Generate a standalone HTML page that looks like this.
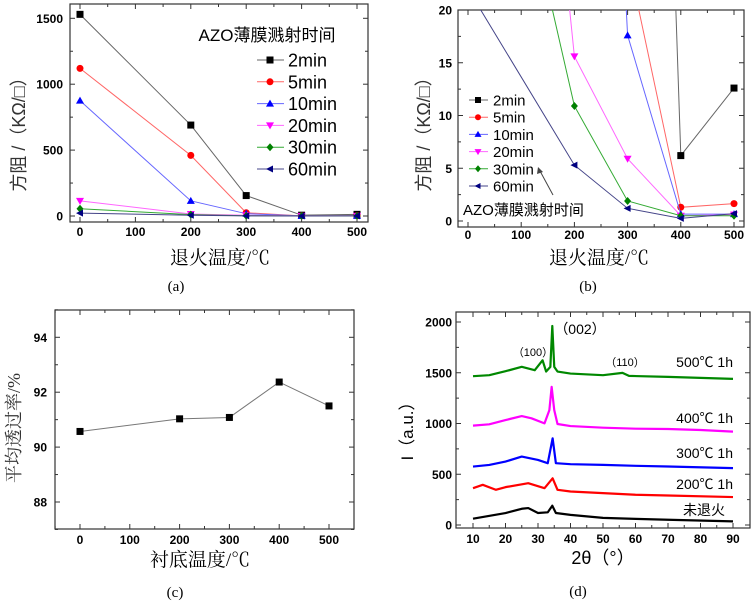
<!DOCTYPE html>
<html><head><meta charset="utf-8"><style>
html,body{margin:0;padding:0;background:#fff;}
svg{display:block;font-family:"Liberation Sans","Noto Sans CJK SC",sans-serif;}
.tk{font-weight:bold;font-size:12px;fill:#000;}
.cj{font-family:"Liberation Serif","Noto Serif CJK SC",serif;}
</style></head><body>
<svg id="fig" width="753" height="603" viewBox="0 0 753 603">
<defs>
<clipPath id="clipA"><rect x="70" y="4" width="298" height="218"/></clipPath>
<clipPath id="clipB"><rect x="458" y="10" width="286" height="217"/></clipPath>
<clipPath id="clipC"><rect x="55" y="310" width="299" height="219"/></clipPath>
<clipPath id="clipD"><rect x="456" y="312" width="294" height="216"/></clipPath>
</defs>
</svg>
<script>
const temps=[0,200,300,400,500];
const seriesNames=["2min","5min","10min","20min","30min","60min"];
const s2min=[1530,690,155,6.2,12.6];
const s5min=[1120,460,25,1.3,1.65];
const s10min=[875,115,17.6,0.65,0.65];
const s20min=[115,15.6,5.9,0.5,0.6];
const s30min=[55,10.9,1.9,0.5,0.5];
const s60min=[22,5.3,1.2,0.25,0.7];
const tickA_y=[0,500,1000,1500];
const tickB_y=[0,5,10,15,20];
const tickX=[0,100,200,300,400,500];
const transT=[0,200,300,400,500];
const transV=[90.57,91.03,91.08,92.37,91.5];
const tickC_y=[88,90,92,94];
const xrdX0=[10,20,25,27,30,33,34.4,35.5,40,50,60,70,90];
const xrdY0=[62,118,160,167,118,125,190,118,100,70,60,52,36];
const xrdX200=[10,13,17,20,27,32,34.5,36,40,50,60,70,90];
const xrdY200=[363,396,347,373,412,363,460,347,330,314,298,291,275];
const xrdX300=[10,15,20,25,30,33,34.5,35.5,40,50,60,70,90];
const xrdY300=[576,592,625,674,641,609,854,609,599,592,583,576,560];
const xrdX400=[10,15,20,25,28,32,33.5,34.2,35,36,40,50,60,70,80,90];
const xrdY400=[979,992,1034,1073,1051,1001,1132,1361,1132,995,975,959,949,946,936,920];
const xrdX500=[10,15,20,25,29,31.4,32.5,33.8,34.4,35,36,40,50,56,58,70,90];
const xrdY500=[1466,1476,1515,1558,1525,1623,1512,1558,1961,1558,1512,1492,1476,1499,1469,1459,1440];
const tickD_x=[10,20,30,40,50,60,70,80,90];
const tickD_y=[0,500,1000,1500,2000];

const NS="http://www.w3.org/2000/svg";
const fig=document.getElementById('fig');
function el(tag,attrs,parent){const e=document.createElementNS(NS,tag);for(const k in attrs)e.setAttribute(k,attrs[k]);(parent||fig).appendChild(e);return e;}
function txt(x,y,s,cls,anchor,size,parent,name){const t=el('text',{x:x,y:y,'text-anchor':anchor||'middle'},parent);if(cls)t.setAttribute('class',cls);if(size)t.setAttribute('font-size',size);t.textContent=s;


return t;}
function lin(x0,x1,p0,p1){return v=>p0+(v-x0)*(p1-p0)/(x1-x0);}
const colors=["#000","#f00","#00f","#f0f","#008000","#000080"];
const lineCols=["#666","#f66","#66f","#f6f","#3a3","#448"];
const shapes=["sq","ci","tu","td","di","tl"];
function marker(g,x,y,sh,c,r){r=r||3.5;let m;
if(sh==="sq")m=el('rect',{x:x-r,y:y-r,width:2*r,height:2*r,fill:c},g);
else if(sh==="ci")m=el('circle',{cx:x,cy:y,r:r,fill:c},g);
else if(sh==="tu")m=el('polygon',{points:`${x},${y-r-0.5} ${x-r-0.5},${y+r-0.5} ${x+r+0.5},${y+r-0.5}`,fill:c},g);
else if(sh==="td")m=el('polygon',{points:`${x},${y+r+0.5} ${x-r-0.5},${y-r+0.5} ${x+r+0.5},${y-r+0.5}`,fill:c},g);
else if(sh==="di")m=el('polygon',{points:`${x},${y-r-0.5} ${x+r},${y} ${x},${y+r+0.5} ${x-r},${y}`,fill:c},g);
else m=el('polygon',{points:`${x-r-0.5},${y} ${x+r-0.5},${y-r} ${x+r-0.5},${y+r}`,fill:c},g);


return m;}
function axesBox(L,T,R,B,xs,xt,ys,yt,xlabY,ylabX,name,xminor,yminor){
 const g=el('g',{});
 
 
 el('rect',{x:L,y:T,width:R-L,height:B-T,fill:'none',stroke:'#333','stroke-width':1.2},g);
 xt.forEach(v=>{const x=xs(v);el('line',{x1:x,y1:B,x2:x,y2:B-5,stroke:'#333'},g);el('line',{x1:x,y1:T,x2:x,y2:T+5,stroke:'#333'},g);txt(x,xlabY,String(v),'tk','middle',null,g,'x-tick-label');});
 (xminor||[]).forEach(v=>{const x=xs(v);el('line',{x1:x,y1:B,x2:x,y2:B-3,stroke:'#333'},g);el('line',{x1:x,y1:T,x2:x,y2:T+3,stroke:'#333'},g);});
 yt.forEach(v=>{const y=ys(v);el('line',{x1:L,y1:y,x2:L+5,y2:y,stroke:'#333'},g);el('line',{x1:R,y1:y,x2:R-5,y2:y,stroke:'#333'},g);txt(ylabX,y+4.5,String(v),'tk','end',null,g,'y-tick-label');});
 (yminor||[]).forEach(v=>{const y=ys(v);el('line',{x1:L,y1:y,x2:L+3,y2:y,stroke:'#333'},g);el('line',{x1:R,y1:y,x2:R-3,y2:y,stroke:'#333'},g);});
 return g;}
const allS=[s2min,s5min,s10min,s20min,s30min,s60min];
const xminorT=[50,150,250,350,450];

// Panel A
{const xs=lin(0,500,80,357),ys=lin(0,1500,216,18.3);
 axesBox(70,4,368,222,xs,tickX,ys,tickA_y,236,63,'panel-a-axes',xminorT,[250,750,1250]);
 const g=el('g',{'clip-path':'url(#clipA)'});
 
 
 allS.forEach((s,i)=>{el('polyline',{points:temps.map((t,j)=>xs(t)+','+ys(s[j])).join(' '),fill:'none',stroke:lineCols[i],'stroke-width':1},g);
  temps.forEach((t,j)=>marker(g,xs(t),ys(s[j]),shapes[i],colors[i]));});
 txt(267,41,'AZO薄膜溅射时间',null,'middle',17,null,'legend-title');
 seriesNames.forEach((n,i)=>{const y=60+i*21.8;
  const l=el('line',{x1:257,y1:y,x2:284,y2:y,stroke:lineCols[i]});
  
  
  marker(fig,270,y,shapes[i],colors[i]);txt(288,y+6.5,n,null,'start',18,null,'legend-entry');});
 const t=txt(0,0,'方阻 /（KΩ/□）',null,'middle',18,null,'y-axis-title');t.setAttribute('transform','translate(25,130) rotate(-90)');t.setAttribute('fill','#333');
 txt(220,264,'退火温度/℃','cj','middle',19,null,'x-axis-title');
 txt(176,291,'(a)','cj','middle',15,null,'panel-label-a');}

// Panel B
{const xs=lin(0,500,468,734),ys=lin(0,20,221,10);
 axesBox(458,10,744,227,xs,tickX,ys,tickB_y,239,452,'panel-b-axes',xminorT,[2.5,7.5,12.5,17.5]);
 const g=el('g',{'clip-path':'url(#clipB)'});
 
 
 allS.forEach((s,i)=>{el('polyline',{points:temps.map((t,j)=>xs(t)+','+ys(s[j])).join(' '),fill:'none',stroke:lineCols[i],'stroke-width':1},g);
  temps.forEach((t,j)=>marker(g,xs(t),ys(s[j]),shapes[i],colors[i]));});
 seriesNames.forEach((n,i)=>{const y=100+i*17.2;
  const l=el('line',{x1:469,y1:y,x2:488,y2:y,stroke:lineCols[i]});
  
  
  marker(fig,478,y,shapes[i],colors[i],3);txt(493,y+5.5,n,null,'start',15,null,'legend-entry');});
 txt(463,215,'AZO薄膜溅射时间',null,'start',15,null,'legend-title');
 const a=el('line',{x1:553,y1:195,x2:540,y2:171,stroke:'#444','stroke-width':1});
 
 
 el('polygon',{points:'538,167 537,174 543,172',fill:'#444'});
 const t=txt(0,0,'方阻 /（KΩ/□）',null,'middle',18,null,'y-axis-title');t.setAttribute('transform','translate(430,130) rotate(-90)');t.setAttribute('fill','#333');
 txt(599,264,'退火温度/℃','cj','middle',19,null,'x-axis-title');
 txt(588,291,'(b)','cj','middle',15,null,'panel-label-b');}

// Panel C
{const xs=lin(0,500,80,329),ys=lin(88,94,502,337.3);
 axesBox(55,310,354,529,xs,tickX,ys,tickC_y,544,47,'panel-c-axes',[-50,50,150,250,350,450],[87,89,91,93,95]);
 const g=el('g',{'clip-path':'url(#clipC)'});
 
 
 el('polyline',{points:transT.map((t,j)=>xs(t)+','+ys(transV[j])).join(' '),fill:'none',stroke:'#777','stroke-width':1},g);
 transT.forEach((t,j)=>marker(g,xs(t),ys(transV[j]),'sq','#000'));
 const t=txt(0,0,'平均透过率/%','cj','middle',18,null,'y-axis-title');t.setAttribute('transform','translate(20,428) rotate(-90)');t.setAttribute('fill','#333');
 txt(200,566,'衬底温度/℃','cj','middle',19,null,'x-axis-title');
 txt(175,597,'(c)','cj','middle',15,null,'panel-label-c');}

// Panel D
{const xs=lin(10,90,473,733),ys=lin(0,2000,525,322);
 axesBox(456,312,750,528,xs,tickD_x,ys,tickD_y,543,452,'panel-d-axes',[15,25,35,45,55,65,75,85],[250,750,1250,1750]);
 const g=el('g',{'clip-path':'url(#clipD)'});
 
 
 const xr=[[xrdX0,xrdY0,'#000'],[xrdX200,xrdY200,'#f00'],[xrdX300,xrdY300,'#00f'],[xrdX400,xrdY400,'#f0f'],[xrdX500,xrdY500,'#080']];
 xr.forEach(([X,Y,c])=>{const p=el('polyline',{points:X.map((v,j)=>xs(v)+','+ys(Y[j])).join(' '),fill:'none',stroke:c,'stroke-width':2.2,'stroke-linejoin':'round'},g);
  
  });
 txt(533,356,'（100）',null,'middle',11,null,'peak-label-100');
 txt(580,334,'（002）',null,'middle',14,null,'peak-label-002');
 txt(625,366,'（110）',null,'middle',11,null,'peak-label-110');
 txt(733,367,'500℃ 1h',null,'end',14,null,'curve-label-500');
 txt(733,423,'400℃ 1h',null,'end',14,null,'curve-label-400');
 txt(733,458,'300℃ 1h',null,'end',14,null,'curve-label-300');
 txt(733,489,'200℃ 1h',null,'end',14,null,'curve-label-200');
 txt(704,515,'未退火',null,'middle',14,null,'curve-label-unannealed');
 const t=txt(0,0,'I（a.u.）',null,'middle',17,null,'y-axis-title');t.setAttribute('transform','translate(413,427) rotate(-90)');
 txt(603,564,'2θ（°）',null,'middle',18,null,'x-axis-title');
 txt(578,596,'(d)','cj','middle',15,null,'panel-label-d');}
</script>
</body></html>
